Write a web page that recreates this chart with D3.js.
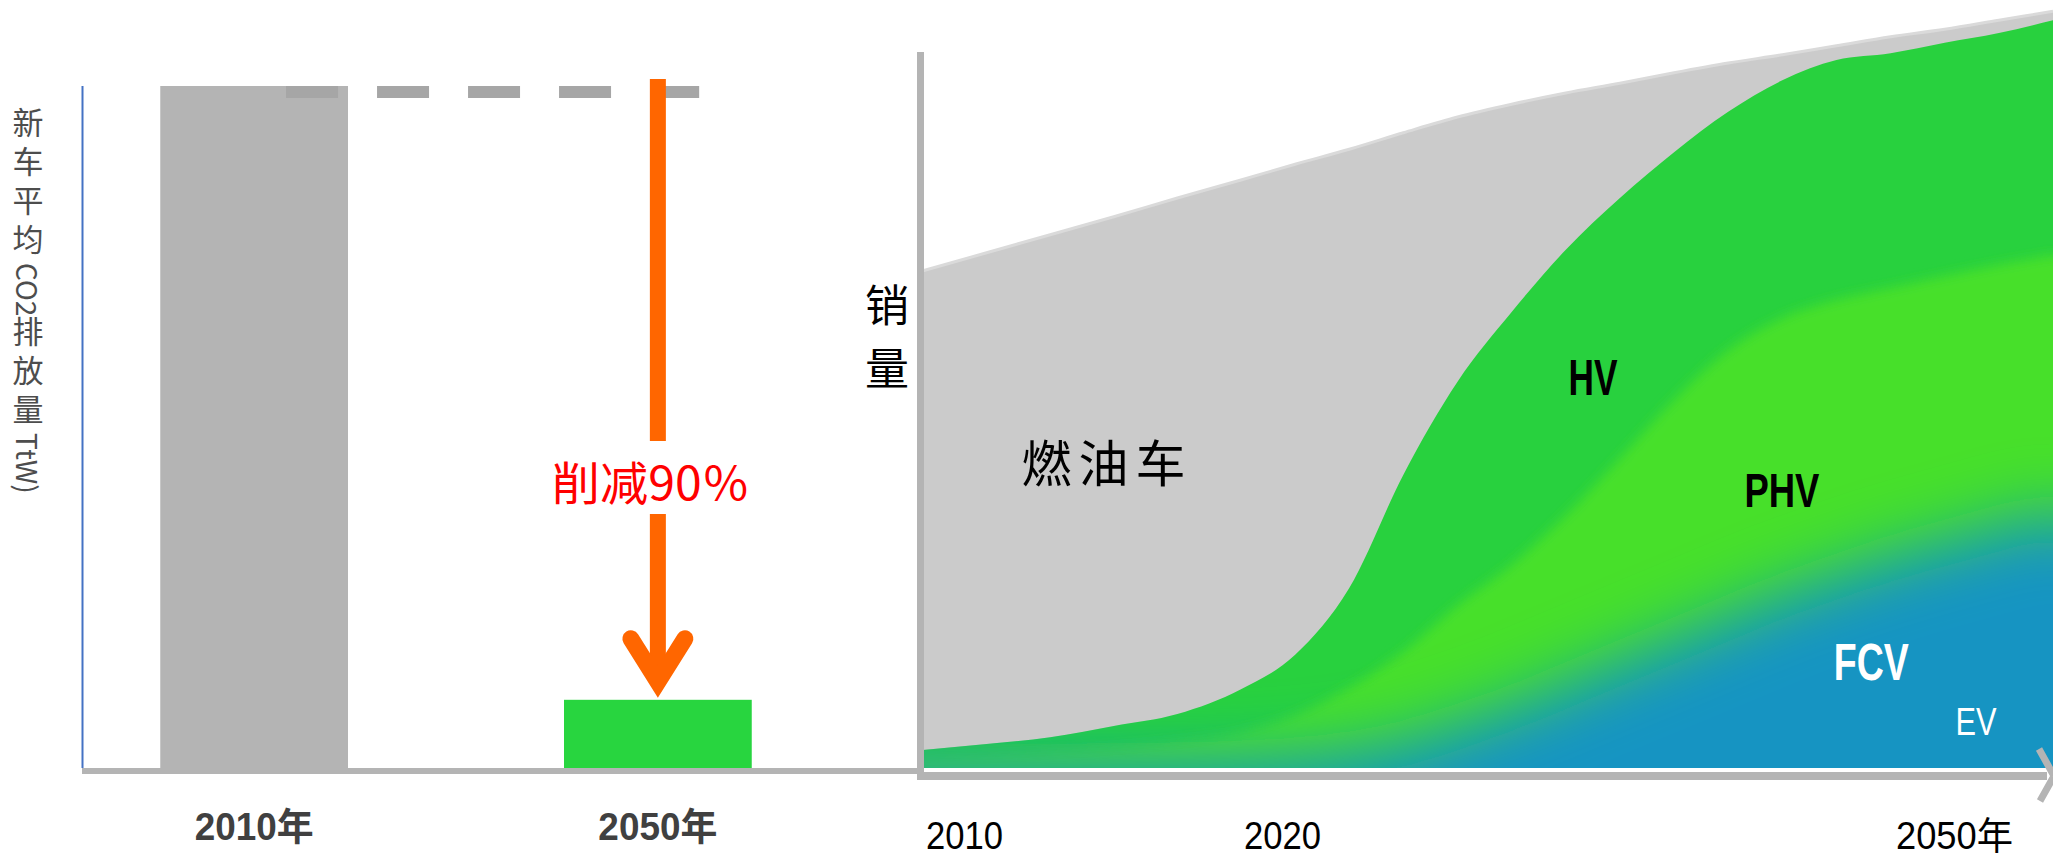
<!DOCTYPE html>
<html>
<head>
<meta charset="utf-8">
<script src="https://cdn.jsdelivr.net/npm/d3@7"></script>
<style>
  body { margin: 0; background: #fff; }
  svg { display: block; }
</style>
</head>
<body>
<div id="chart"></div>
<script>
// left panel: average CO2 of a new car
const barCats = ['2010年', '2050年'];
const barVals = [100, 10];
const barColors = ['#b4b4b4', '#28d53f'];
const cutLabel = '削减90％';
const yLabelLeft = '新车平均CO2排放量TtW)';

// right panel: sales by powertrain
const years = [2010, 2012, 2014, 2016, 2018, 2020, 2022, 2024, 2026, 2028, 2030,
  2032, 2034, 2036, 2038, 2040, 2042, 2044, 2046, 2048, 2050];
const fuelCar = [63.9, 65.5, 67.0, 67.9, 68.8, 67.9, 65.4, 58.5, 45.6, 35.3, 27.7,
  20.9, 15.3, 10.6, 6.5, 3.4, 1.9, 2.2, 1.8, 1.7, 1.2];
const hv = [1.2, 1.6, 2.0, 2.9, 3.7, 5.7, 8.0, 13.3, 23.6, 29.8, 33.7,
  35.4, 34.7, 33.0, 31.8, 31.7, 32.0, 31.3, 31.1, 30.9, 31.3];
const phv = [1.1, 1.45, 1.9, 2.4, 3.1, 4.2, 6.1, 8.9, 12.3, 16.2, 19.1,
  22.7, 27.3, 32.1, 35.7, 37.0, 36.9, 36.0, 35.6, 35.1, 34.4];
const fcvEv = [0.1, 0.15, 0.2, 0.3, 0.4, 0.6, 1.0, 1.8, 3.2, 5.5, 8.0,
  11.0, 14.0, 17.0, 20.0, 23.0, 25.5, 28.0, 30.0, 32.0, 34.0];
const tickYears = [2010, 2020, 2050];
const tickLabels = ['2010', '2020', '2050年'];
const yLabelRight = ['销', '量'];

const W = 2053, H = 858;
const svg = d3.select('#chart').append('svg').attr('width', W).attr('height', H);
const defs = svg.append('defs');

// ---------- left panel ----------
const xL = d3.scaleBand().domain(barCats).range([46, 866]).paddingInner(0.535).paddingOuter(0.283);
const yL = d3.scaleLinear().domain([0, 100]).range([768, 86]);

svg.selectAll('.bar')
  .data(barCats)
  .enter()
  .append('rect')
  .attr('class', 'bar')
  .attr('x', d => xL(d))
  .attr('y', (d, i) => yL(barVals[i]))
  .attr('width', xL.bandwidth())
  .attr('height', (d, i) => yL(0) - yL(barVals[i]))
  .attr('fill', (d, i) => barColors[i]);

// dashed line at the 2010 level
svg.append('line')
  .attr('x1', xL(barCats[0]) + xL.bandwidth() * 0.67)
  .attr('x2', xL(barCats[1]) + xL.bandwidth() * 0.72)
  .attr('y1', yL(barVals[0]) + 6).attr('y2', yL(barVals[0]) + 6)
  .attr('stroke', '#a6a6a6').attr('stroke-width', 12)
  .attr('stroke-dasharray', '52,39');

// arrow
const ax = xL(barCats[1]) + xL.bandwidth() / 2;
const tipY = yL(barVals[1]);
const arrow = svg.append('g').attr('stroke', '#ff6600').attr('fill', 'none');
arrow.append('line').attr('x1', ax).attr('x2', ax).attr('y1', yL(barVals[0]) - 7).attr('y2', 441)
  .attr('stroke-width', 16);
arrow.append('line').attr('x1', ax).attr('x2', ax).attr('y1', 514).attr('y2', tipY - 30)
  .attr('stroke-width', 16);
arrow.append('polyline')
  .attr('points', [[ax - 27, tipY - 61], [ax, tipY - 18], [ax + 27, tipY - 61]].join(' '))
  .attr('stroke-width', 17).attr('stroke-linecap', 'round').attr('stroke-linejoin', 'miter')
  .attr('stroke-miterlimit', 10);

svg.append('text')
  .attr('x', ax - 7).attr('y', 500)
  .attr('text-anchor', 'middle')
  .attr('font-family', '"Noto Sans CJK SC", sans-serif')
  .attr('font-size', 46)
  .attr('fill', '#ff0000')
  .attr('textLength', 198).attr('lengthAdjust', 'spacingAndGlyphs')
  .text(cutLabel);

// axes of left panel
svg.append('line').attr('x1', 82).attr('x2', 917).attr('y1', 771).attr('y2', 771)
  .attr('stroke', '#b4b4b4').attr('stroke-width', 6);
svg.append('line').attr('x1', 82.5).attr('x2', 82.5).attr('y1', yL(100)).attr('y2', yL(0))
  .attr('stroke', '#4472c4').attr('stroke-width', 2);

svg.selectAll('.xl')
  .data(barCats)
  .enter()
  .append('text')
  .attr('class', 'xl')
  .attr('x', d => xL(d) + xL.bandwidth() / 2)
  .attr('y', 840)
  .attr('text-anchor', 'middle')
  .attr('font-family', '"Liberation Sans", "Noto Sans CJK SC", sans-serif')
  .attr('font-weight', 'bold')
  .attr('font-size', 38)
  .attr('fill', '#404040')
  .attr('textLength', 119).attr('lengthAdjust', 'spacingAndGlyphs')
  .text(d => d);

// vertical y label: one text in vertical writing, CJK spaced, latin runs tight
const runs = yLabelLeft.match(/[\u4e00-\u9fff]+|[^\u4e00-\u9fff]+/g);
const yl = svg.append('text')
  .attr('x', 28).attr('y', 107)
  .style('writing-mode', 'vertical-rl')
  .attr('font-family', '"Noto Sans CJK SC", sans-serif')
  .attr('font-size', 31)
  .attr('fill', '#4d4d4d');
runs.forEach(r => {
  yl.append('tspan')
    .attr('letter-spacing', /[\u4e00-\u9fff]/.test(r) ? 8 : 0)
    .attr('font-size', /[\u4e00-\u9fff]/.test(r) ? 31 : 28)
    .text(r);
});

// ---------- right panel ----------
const xR = d3.scaleLinear().domain([2010, 2020, 2050]).range([923, 1241, 2053]);
const yR = d3.scaleLinear().domain([0, 100]).range([768, 18]);

const table = years.map((y, i) => ({ year: y, fcvEv: fcvEv[i], phv: phv[i], hv: hv[i], fuel: fuelCar[i] }));
const series = d3.stack().keys(['fcvEv', 'phv', 'hv', 'fuel'])(table);
const topOf = k => series[k].map(d => d[1]);

function areaTo(vals, base) {
  return d3.area()
    .x((d, i) => xR(years[i]))
    .y0(yR(base))
    .y1(d => yR(d))
    .curve(d3.curveMonotoneX)(vals);
}

// fuel cars (whole total, later covered)
svg.append('path').attr('d', areaTo(topOf(3), 0)).attr('fill', '#cbcbcb');
svg.append('path')
  .attr('d', d3.line().x((d, i) => xR(years[i])).y(d => yR(d)).curve(d3.curveMonotoneX)(topOf(3)))
  .attr('fill', 'none').attr('stroke', '#dadada').attr('stroke-width', 3);

// HV
svg.append('path').attr('d', areaTo(topOf(2), 0)).attr('fill', '#28d13e');

// soft-edged PHV and FCV/EV, clipped to the electrified area
defs.append('clipPath').attr('id', 'elec')
  .append('path').attr('d', areaTo(topOf(2), 0));

function blurFilter(id, sd) {
  defs.append('filter').attr('id', id)
    .attr('filterUnits', 'userSpaceOnUse')
    .attr('x', 600).attr('y', -200).attr('width', 1800).attr('height', 1200)
    .append('feGaussianBlur').attr('stdDeviation', sd);
}
blurFilter('bPhv', 6);
blurFilter('bBlue', 34);

const soft = svg.append('g').attr('clip-path', 'url(#elec)');
function softLayer(vals, color, filterId) {
  const g = soft.append('g').attr('filter', 'url(#' + filterId + ')');
  const d = areaTo(vals, -12);
  const x0 = xR(years[0]), x1 = xR(years[years.length - 1]);
  [null, 'translate(' + 2 * x1 + ',0) scale(-1,1)', 'translate(' + 2 * x0 + ',0) scale(-1,1)']
    .forEach(t => {
      const p = g.append('path').attr('d', d).attr('fill', color);
      if (t) p.attr('transform', t);
    });
}
softLayer(topOf(1), '#46e02c', 'bPhv');
softLayer(topOf(0), '#1594c2', 'bBlue');

// series labels
const lab = svg.append('g').attr('font-family', '"Liberation Sans", sans-serif');
lab.append('text').attr('x', xR(2013.1)).attr('y', yR(38.1))
  .attr('font-family', '"Noto Sans CJK SC", sans-serif').attr('font-size', 50)
  .attr('letter-spacing', 7).attr('fill', '#000').text('燃油车');
[['HV', 2032.1, 49.7, 50, 49, '#000', 'bold'],
 ['PHV', 2038.6, 34.8, 49, 75, '#000', 'bold'],
 ['FCV', 2041.9, 11.7, 51, 75, '#fff', 'bold'],
 ['EV', 2046.4, 4.4, 39, 41, '#fff', 'normal']].forEach(l => {
  lab.append('text')
    .attr('x', xR(l[1])).attr('y', yR(l[2]))
    .attr('font-size', l[3]).attr('font-weight', l[6]).attr('fill', l[5])
    .attr('textLength', l[4]).attr('lengthAdjust', 'spacingAndGlyphs')
    .text(l[0]);
});

// axes of right panel
const axisG = svg.append('g').attr('stroke', '#b4b4b4').attr('fill', 'none');
axisG.append('line').attr('x1', 920.5).attr('x2', 920.5).attr('y1', 52).attr('y2', 780)
  .attr('stroke-width', 7);
axisG.append('line').attr('x1', 917).attr('x2', 2047).attr('y1', 776).attr('y2', 776)
  .attr('stroke-width', 8);
axisG.append('polyline').attr('points', '2039,749 2054,776 2040,801')
  .attr('stroke-width', 7);

svg.selectAll('.xr')
  .data(tickYears)
  .enter()
  .append('text')
  .attr('class', 'xr')
  .attr('x', (d, i) => i === tickYears.length - 1 ? xR(d) - 40 : xR(d) + 3)
  .attr('y', 849)
  .attr('text-anchor', (d, i) => i === tickYears.length - 1 ? 'end' : 'start')
  .attr('font-family', '"Liberation Sans", "Noto Sans CJK SC", sans-serif')
  .attr('font-size', 38)
  .attr('fill', '#000')
  .attr('textLength', (d, i) => i === tickYears.length - 1 ? 117 : 77)
  .attr('lengthAdjust', 'spacingAndGlyphs')
  .text((d, i) => tickLabels[i]);

svg.selectAll('.yr')
  .data(yLabelRight)
  .enter()
  .append('text')
  .attr('class', 'yr')
  .attr('x', 887)
  .attr('y', (d, i) => 303 + i * 63)
  .attr('text-anchor', 'middle')
  .attr('dominant-baseline', 'central')
  .attr('font-family', '"Noto Sans CJK SC", sans-serif')
  .attr('font-size', 44)
  .attr('fill', '#000')
  .text(d => d);
</script>
</body>
</html>
